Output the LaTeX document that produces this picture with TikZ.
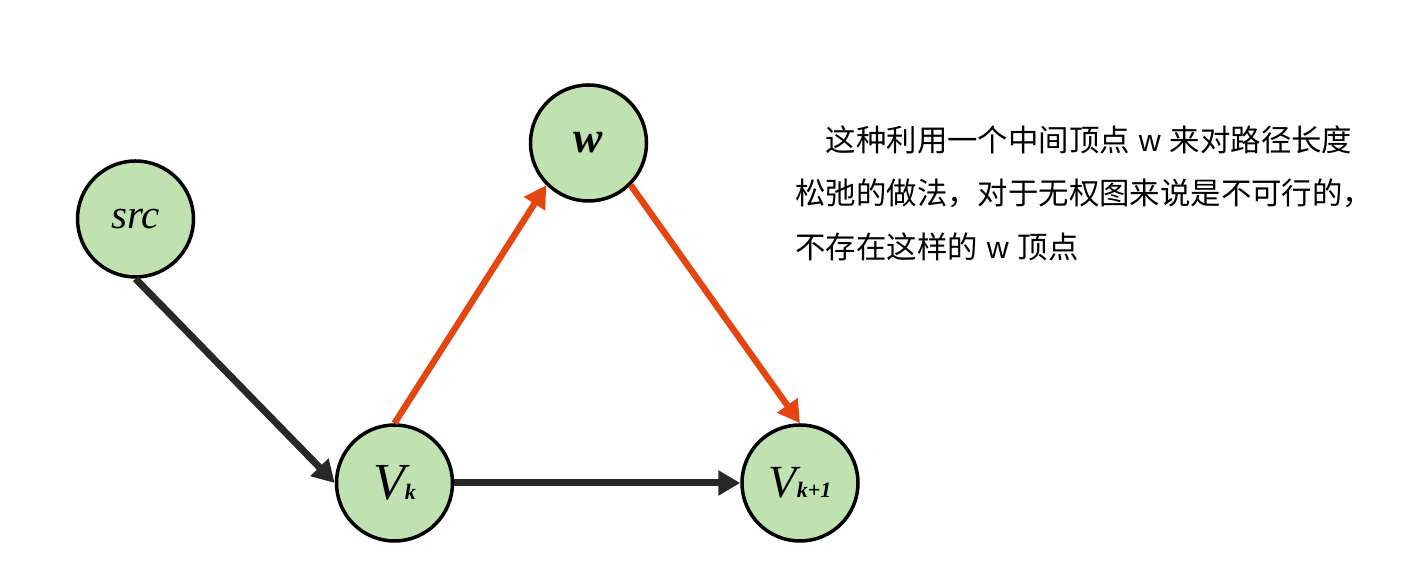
\documentclass[tikz,border=0pt]{standalone}
\usepackage{fontspec}
\usetikzlibrary{arrows.meta}
\newfontfamily\cjkfont{Noto Sans CJK SC}
\newfontfamily\latinsans{Liberation Sans}
\newfontfamily\labelfont{Liberation Serif}
\definecolor{vgreen}{HTML}{BFE2B0}
\definecolor{eorange}{HTML}{E5450E}
\definecolor{edark}{HTML}{282828}

\begin{document}
\begin{tikzpicture}[x=0.5pt,y=0.5pt]
	\tikzstyle{vertex} = [circle,fill=vgreen,draw=black,line width=1.75pt,minimum size=58pt,inner sep=0pt]
	\tikzstyle{edge} = [-{Triangle[length=11pt,width=12pt]},line width=3.5pt,draw=edark]
	\tikzstyle{hot} = [edge,draw=eorange,line width=3.2pt]
	\useasboundingbox (0,0) rectangle (1404,582);
	\node[vertex] (src) at (135.5,363) {\labelfont\itshape\fontsize{20.5}{20}\selectfont src};
	\node[vertex] (w) at (588.5,439) {\labelfont\bfseries\itshape\fontsize{22}{22}\selectfont w};
	\node[vertex] (vk) at (394.5,99) {\labelfont\itshape\fontsize{26}{26}\selectfont V{\bfseries\fontsize{11}{11}\selectfont k}};
	\node[vertex] (vk1) at (800,99) {\labelfont\itshape\fontsize{23}{23}\selectfont V{\bfseries\fontsize{11}{11}\selectfont k+1}};
	\draw[edge] (src.south)--(vk.west);
	\draw[edge] (vk.east)--(vk1.west);
	\draw[hot] (vk.north)--(w.south west);
	\draw[hot] (w.south east)--(vk1.north);
	% remark on the right
	\node[anchor=north west,inner sep=0pt,align=left,font=\cjkfont\fontsize{15.2}{26.75}\selectfont] (note) at (795,457)
		{\hspace*{1em}这种利用一个中间顶点\hspace{0.3em}{\latinsans w}\hspace{0.3em}来对路径长度\\
		松弛的做法，对于无权图来说是不可行的，\\
		不存在这样的\hspace{0.3em}{\latinsans w}\hspace{0.3em}顶点};
\end{tikzpicture}
\end{document}
